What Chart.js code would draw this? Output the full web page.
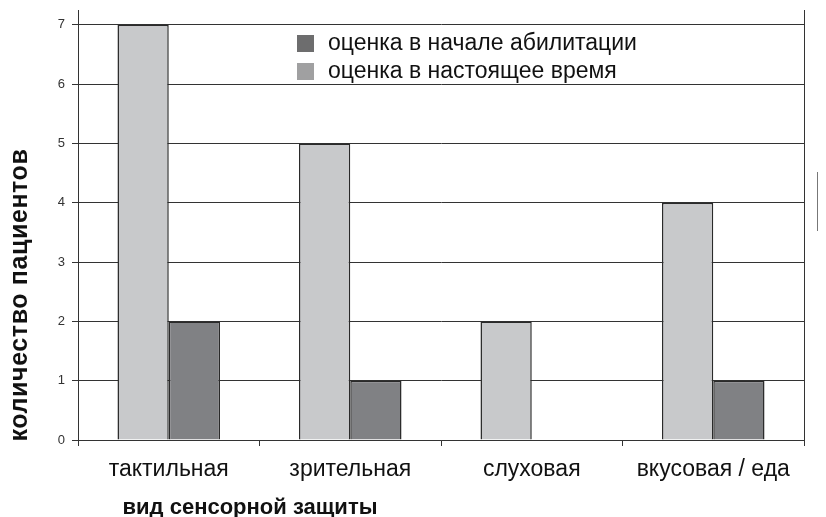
<!DOCTYPE html>
<html>
<head>
<meta charset="utf-8">
<script src="https://cdn.jsdelivr.net/npm/chart.js@4"></script>
<style>
  html, body { margin: 0; padding: 0; background: #fff; }
  #wrap { width: 826px; height: 517px; position: relative; }
</style>
</head>
<body>
<div id="wrap"><canvas id="chart"></canvas></div>
<script>
// data
const categories = ['тактильная', 'зрительная', 'слуховая', 'вкусовая / еда']
const nowValues = [7, 5, 2, 4]      // оценка в настоящее время
const startValues = [2, 1, 0, 1]    // оценка в начале абилитации
const yTicks = [0, 1, 2, 3, 4, 5, 6, 7]

const FONT = '"Liberation Sans", Arial, sans-serif'

// legend, axis titles and the right frame line are drawn by hand
const extras = {
    id: 'extras',
    afterDraw(chart) {
        const ctx = chart.ctx
        const area = chart.chartArea
        ctx.save()
        // right frame line
        ctx.strokeStyle = '#333'
        ctx.lineWidth = 1
        ctx.beginPath()
        ctx.moveTo(area.right + 0.5, area.top)
        ctx.lineTo(area.right + 0.5, area.bottom)
        ctx.stroke()
        // small stray mark at the right edge
        ctx.strokeStyle = '#777'
        ctx.beginPath()
        ctx.moveTo(817.5, 172)
        ctx.lineTo(817.5, 231)
        ctx.stroke()

        // legend (start first, as in the picture)
        const items = [
            {text: chart.data.datasets[1].label, color: '#6d6d6e'},
            {text: chart.data.datasets[0].label, color: '#a0a0a1'}
        ]
        ctx.font = '23px ' + FONT
        ctx.textBaseline = 'middle'
        ctx.textAlign = 'left'
        items.forEach(function(it, i) {
            const y = 43 + i * 28
            ctx.fillStyle = '#fff'
            ctx.fillRect(294, y - 12, 360, 24)
            ctx.fillStyle = it.color
            ctx.fillRect(297, y - 8, 17, 17)
            ctx.fillStyle = '#111'
            ctx.fillText(it.text, 328, y + 1)
        })

        // axis titles
        ctx.font = 'bold 22px ' + FONT
        ctx.fillStyle = '#111'
        ctx.textAlign = 'center'
        ctx.fillText('вид сенсорной защиты', 250, 508)
        ctx.font = 'bold 25px ' + FONT
        ctx.letterSpacing = '0.6px'
        ctx.translate(20, 295)
        ctx.rotate(-Math.PI / 2)
        ctx.fillText('количество пациентов', 0, 0)
        ctx.restore()
    }
}

new Chart(document.getElementById('chart'), {
    type: 'bar',
    data: {
        labels: categories,
        datasets: [
            {
                label: 'оценка в настоящее время',
                data: nowValues,
                backgroundColor: '#c8c9cb',
                borderColor: '#2a2a2a',
                borderWidth: 1.5
            },
            {
                label: 'оценка в начале абилитации',
                data: startValues,
                backgroundColor: '#808184',
                borderColor: '#2a2a2a',
                borderWidth: 1.5
            }
        ]
    },
    options: {
        responsive: true,
        maintainAspectRatio: false,
        animation: false,
        layout: {padding: {top: 10, right: 22, left: 0, bottom: 0}},
        plugins: {
            legend: {display: false},
            tooltip: {enabled: false}
        },
        datasets: {bar: {categoryPercentage: 0.565, barPercentage: 1.0}},
        scales: {
            x: {
                afterFit(scale) {
                    scale.height = 77
                    scale.paddingLeft = 0
                    scale.paddingRight = 0
                },
                grid: {
                    offset: true,
                    drawOnChartArea: false,
                    drawTicks: true,
                    tickLength: 6,
                    color: '#333'
                },
                border: {color: '#333', width: 1},
                ticks: {
                    color: '#111',
                    font: {family: FONT, size: 23},
                    padding: 10
                }
            },
            y: {
                min: 0,
                max: 7.25,
                afterFit(scale) {
                    scale.width = 78
                    scale.paddingTop = 0
                    scale.paddingBottom = 0
                },
                afterBuildTicks(scale) {
                    scale.ticks = yTicks.map(v => ({value: v}))
                },
                grid: {color: '#333', lineWidth: 1, tickLength: 6},
                border: {color: '#333', width: 1},
                ticks: {
                    color: '#333',
                    font: {family: FONT, size: 13},
                    padding: 7
                }
            }
        }
    },
    plugins: [extras]
})
</script>
</body>
</html>
